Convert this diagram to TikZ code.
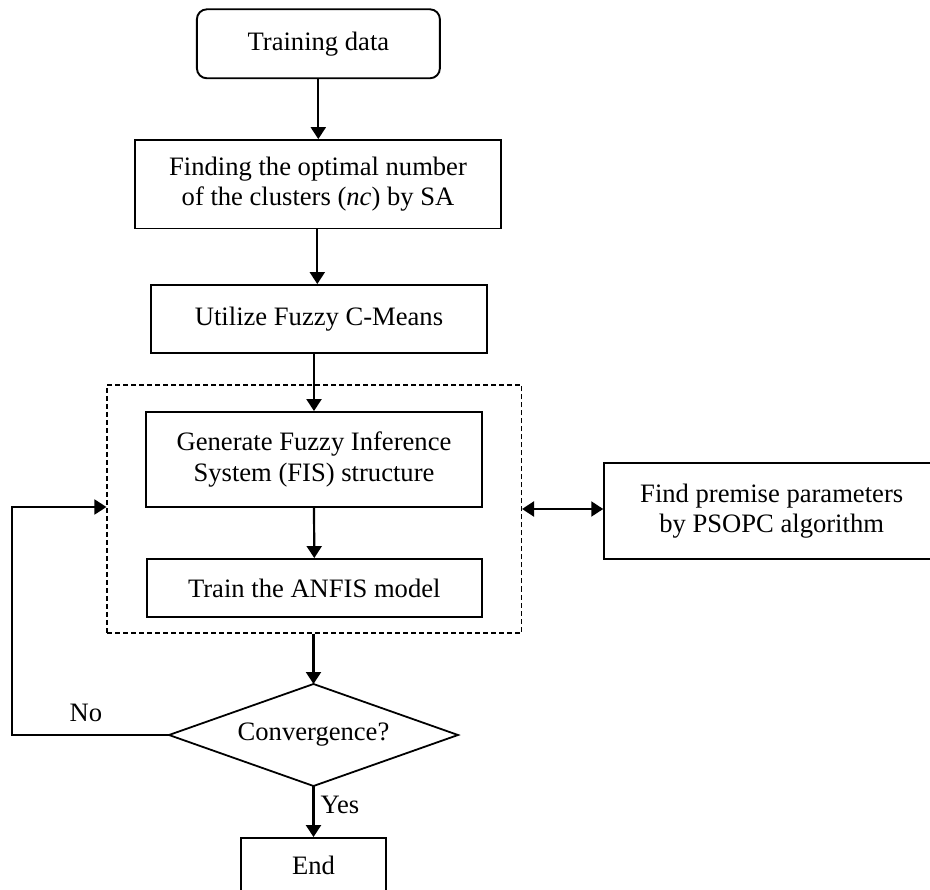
\documentclass[tikz,border=0pt]{standalone}
\usepackage{fontspec}
\setmainfont{Liberation Serif}
\usetikzlibrary{arrows.meta}
\begin{document}
\begin{tikzpicture}[x=1pt,y=-1pt,
  every node/.style={font=\fontsize{26.6}{30.5}\selectfont, align=center, inner sep=0pt},
  box/.style={draw, line width=1.9pt, rectangle},
  grp/.style={draw, line width=1.1pt, dash pattern=on 5pt off 3pt, rectangle},
  conn/.style={line width=2.2pt, -{Triangle[length=12pt,width=15pt]}},
  conn2/.style={line width=2.2pt, {Triangle[length=12pt,width=15pt]}-{Triangle[length=12pt,width=15pt]}},
  lbl/.style={font=\fontsize{26.6}{30.5}\selectfont}
]
\useasboundingbox (0,0) rectangle (930,890);
\node[box, rounded corners=10pt, minimum width=243pt, minimum height=69pt] (td) at (318.4,43.8) {Training data};
\node[box, minimum width=366pt, minimum height=88.5pt] (find) at (318,184.3) {Finding the optimal number\\of the clusters (\textit{nc}) by SA};
\node[box, minimum width=336.5pt, minimum height=68pt] (fcm) at (319,319) {Utilize Fuzzy C-Means};
\node[grp, minimum width=414.5pt, minimum height=248pt] (grp) at (314.25,509) {};
\node[box, minimum width=336pt, minimum height=95pt] (gen) at (314,459.5) {Generate Fuzzy Inference\\System (FIS) structure};
\node[box, minimum width=335.5pt, minimum height=58pt] (anfis) at (314.3,588) {Train the ANFIS model};
\node[box, minimum width=335pt, minimum height=96pt] (pso) at (771.7,511) {Find premise parameters\\by PSOPC algorithm};
\coordinate (dT) at (313.5,684);
\coordinate (dB) at (313.5,786);
\coordinate (dL) at (169,735);
\coordinate (dR) at (458,735);
\draw[line width=1.8pt] (dT) -- (dR) -- (dB) -- (dL) -- cycle;
\node (conv) at (313.5,735) {Convergence?};
\node[box, minimum width=145pt, minimum height=54pt] (end) at (313.5,865) {End};
\coordinate (lb) at (12,735);
\coordinate (lt) at (12,507);
\draw[conn] (td.south -| 318.3,0) -- (find.north -| 318.3,0);
\draw[conn] (find.south -| 317.3,0) -- (fcm.north -| 317.3,0);
\draw[conn] (fcm.south -| gen.north) -- (gen.north);
\draw[conn] (gen.south) -- (anfis.north);
\draw[conn] (grp.south -| dT) -- (dT);
\draw[conn] (dB) -- (end.north -| dB) node[lbl, pos=0.38, right=6pt] {Yes};
\draw[line width=1.9pt, -{Triangle[length=12pt,width=15pt]}] (dL) -- (lb) -- (lt) -- (lt -| grp.west);
\node[lbl] (no) at (86,713) {No};
\draw[conn2] (grp.east) -- (grp.east -| pso.west);
\end{tikzpicture}
\end{document}
